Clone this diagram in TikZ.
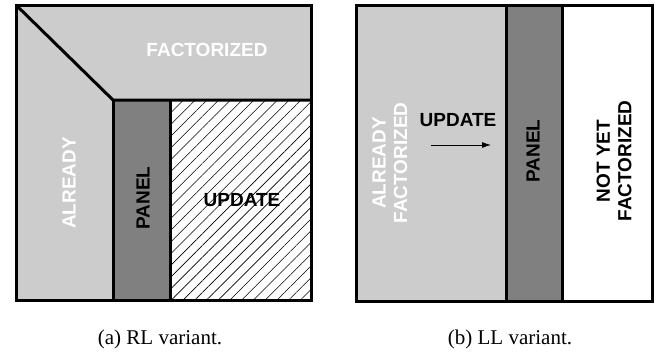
\documentclass[tikz,border=0pt]{standalone}
\usepackage{fontspec}
\setmainfont{Liberation Serif}
\newfontfamily\labelfont{Liberation Sans}
\usepackage{tikz}
\usetikzlibrary{arrows.meta,patterns.meta}
\definecolor{lightgrey}{HTML}{CCCCCC}
\definecolor{panelgrey}{HTML}{808080}
\tikzset{
    blockline/.style={line width=3pt, line join=miter},
    blocklabel/.style={font=\labelfont\bfseries\fontsize{19}{21.5}\selectfont, align=center, inner sep=0pt},
    caption/.style={font=\fontsize{21}{24}\selectfont, inner sep=0pt}
}

\begin{document}
\begin{tikzpicture}[x=1pt, y=-1pt]
    \useasboundingbox (0,0) rectangle (665,354);
    %%RL_variant
    \fill[lightgrey] (16,5) rectangle (311,300);
    \fill[panelgrey] (113,100) rectangle (170,300);
    \fill[white] (170,100) rectangle (311,300);
    \fill[pattern={Lines[angle=45, distance=8.3pt, line width=0.6pt]}] (170,100) rectangle (311,300);
    \draw[blockline] (16,5) rectangle (311,300);
    \draw[blockline] (16,5) to (113,100) to (311,100);
    \draw[blockline] (113,100) to (113,300);
    \draw[blockline] (170,100) to (170,300);
    \node[blocklabel, text=white] (factA) at (207,50) {FACTORIZED};
    \node[blocklabel, text=white, rotate=90] (alreadyA) at (69,183) {ALREADY};
    \node[blocklabel, rotate=90] (panelA) at (143,198) {PANEL};
    \node[blocklabel] (updateA) at (242,200) {UPDATE};
    %%LL_variant
    \fill[lightgrey] (356,5) rectangle (506,301);
    \fill[panelgrey] (506,5) rectangle (562,301);
    \draw[blockline] (356,5) rectangle (652,301);
    \draw[blockline] (506,5) to (506,301);
    \draw[blockline] (562,5) to (562,301);
    \node[blocklabel, text=white, rotate=90] (alreadyB) at (390,163) {ALREADY\\FACTORIZED};
    \node[blocklabel] (updateB) at (458,120) {UPDATE};
    \coordinate (arrowS) at (431,145);
    \coordinate (arrowE) at (491,145);
    \draw[line width=0.8pt, -{Latex[length=9pt, width=6pt]}] (arrowS) to (arrowE);
    \node[blocklabel, rotate=90] (panelB) at (533,151) {PANEL};
    \node[blocklabel, rotate=90] (notyetB) at (614,161) {NOT YET\\FACTORIZED};
    %%captions
    \node[caption] (capA) at (160,339) {(a) RL variant.};
    \node[caption] (capB) at (510,339) {(b) LL variant.};
\end{tikzpicture}
\end{document}
